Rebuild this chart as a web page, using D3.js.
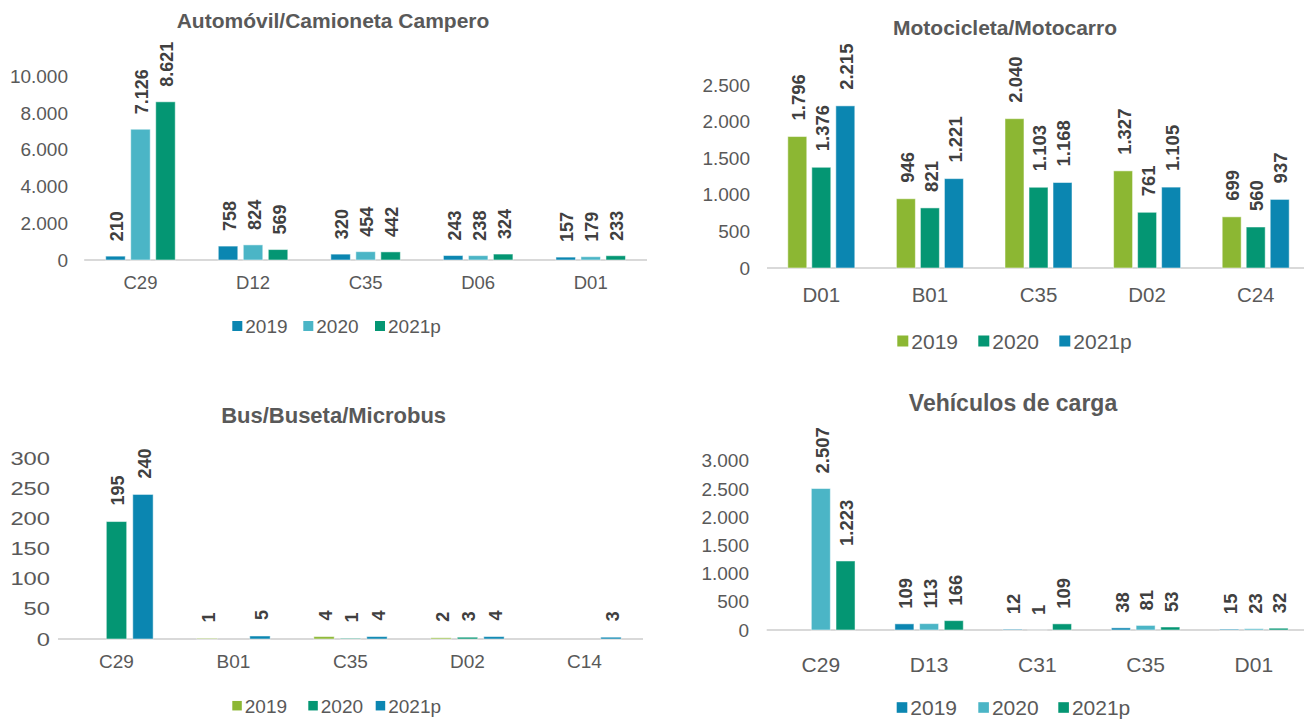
<!DOCTYPE html>
<html><head><meta charset="utf-8">
<script src="https://cdn.jsdelivr.net/npm/d3@7"></script>
<style>
html,body{margin:0;padding:0;background:#fff;}
svg{display:block;font-family:Arial,"Liberation Sans",sans-serif;}
</style></head>
<body>
<svg id="chart" width="1304" height="721"></svg>
<script>
// ---- data ----
const series = ["2019", "2020", "2021p"];

const autoTitle = "Automóvil/Camioneta Campero";
const autoCats = ["C29", "D12", "C35", "D06", "D01"];
const auto2019 = [210, 758, 320, 243, 157];
const auto2020 = [7126, 824, 454, 238, 179];
const auto2021 = [8621, 569, 442, 324, 233];
const autoTicks = [0, 2000, 4000, 6000, 8000, 10000];

const motoTitle = "Motocicleta/Motocarro";
const motoCats = ["D01", "B01", "C35", "D02", "C24"];
const moto2019 = [1796, 946, 2040, 1327, 699];
const moto2020 = [1376, 821, 1103, 761, 560];
const moto2021 = [2215, 1221, 1168, 1105, 937];
const motoTicks = [0, 500, 1000, 1500, 2000, 2500];

const busTitle = "Bus/Buseta/Microbus";
const busCats = ["C29", "B01", "C35", "D02", "C14"];
const bus2019 = [null, 1, 4, 2, null];
const bus2020 = [195, null, 1, 3, null];
const bus2021 = [240, 5, 4, 4, 3];
const busTicks = [0, 50, 100, 150, 200, 250, 300];

const cargaTitle = "Vehículos de carga";
const cargaCats = ["C29", "D13", "C31", "C35", "D01"];
const carga2019 = [null, 109, 12, 38, 15];
const carga2020 = [2507, 113, 1, 81, 23];
const carga2021 = [1223, 166, 109, 53, 32];
const cargaTicks = [0, 500, 1000, 1500, 2000, 2500, 3000];

// ---- styles ----
const paletteA = ["#0b86b1", "#4bb5c6", "#049673"];
const paletteB = ["#8cb733", "#049673", "#0b86b1"];
const textColor = "#595959";
const labelColor = "#404040";

const loc = d3.formatLocale({decimal: ",", thousands: ".", grouping: [3], currency: ["$", ""]});
const fmt = loc.format(",d");

const svg = d3.select("#chart");

function drawPanel(cfg) {
  const g = svg.append("g");
  const y = d3.scaleLinear().domain(cfg.domain).range(cfg.yRange);
  const x0 = d3.scaleBand().domain(cfg.cats).range(cfg.xRange).padding(0);
  const half = cfg.groupW / 2;
  const x1 = d3.scaleBand().domain(series).range([-half, half]).paddingInner(cfg.innerPad);
  const color = d3.scaleOrdinal().domain(series).range(cfg.palette);

  // title
  g.append("text")
    .attr("x", cfg.titleX).attr("y", cfg.titleY)
    .attr("text-anchor", "middle").attr("dy", "0.35em")
    .attr("font-size", cfg.titleSize).attr("font-weight", "bold")
    .attr("fill", textColor).text(cfg.title);

  // y axis (labels only)
  const yAxis = d3.axisLeft(y).tickValues(cfg.ticks).tickFormat(fmt).tickSize(0).tickPadding(0);
  const ya = g.append("g").attr("transform", `translate(${cfg.tickX},0)`).call(yAxis);
  ya.select(".domain").remove();
  ya.selectAll("text").attr("font-size", cfg.tickSize).attr("fill", textColor)
    .attr("font-family", "Arial, 'Liberation Sans', sans-serif");
  if (cfg.tickStretch) {
    ya.selectAll("text").attr("x", 0).attr("transform", `scale(${cfg.tickStretch},1)`);
  }

  // baseline
  g.append("line")
    .attr("x1", cfg.xRange[0]).attr("x2", Math.min(cfg.xRange[1], 1304))
    .attr("y1", y(0)).attr("y2", y(0))
    .attr("stroke", "#d9d9d9").attr("stroke-width", 2);

  // bars
  const rows = [];
  cfg.cats.forEach((c, i) => {
    series.forEach((s, j) => {
      const v = cfg.values[j][i];
      if (v !== null && v !== undefined) rows.push({cat: c, s: s, v: v});
    });
  });
  const cx = d => x0(d.cat) + x0.bandwidth() / 2 + x1(d.s);
  g.selectAll("rect.bar").data(rows).join("rect")
    .attr("class", "bar")
    .attr("x", d => cx(d))
    .attr("width", x1.bandwidth())
    .attr("y", d => y(d.v))
    .attr("height", d => Math.max(0, y(0) - y(d.v)))
    .attr("fill", d => color(d.s))
    .attr("stroke", "#ffffff").attr("stroke-opacity", 0.5).attr("stroke-width", 1);

  // value labels
  g.selectAll("text.val").data(rows).join("text")
    .attr("class", "val")
    .attr("transform", d => `translate(${cx(d) + x1.bandwidth() / 2},${y(d.v) - cfg.labelGap}) rotate(-90)`)
    .attr("dy", "0.42em")
    .attr("font-size", cfg.valSize).attr("font-weight", "bold")
    .attr("fill", labelColor)
    .text(d => fmt(d.v));

  // x category labels
  const xAxis = d3.axisBottom(x0).tickSize(0).tickPadding(0);
  const xa = g.append("g").attr("transform", `translate(0,${cfg.catY})`).call(xAxis);
  xa.select(".domain").remove();
  xa.selectAll("text").attr("font-size", cfg.catSize).attr("fill", textColor)
    .attr("dy", "0.35em").attr("y", 0)
    .attr("font-family", "Arial, 'Liberation Sans', sans-serif");

  // legend
  const lg = g.append("g");
  series.forEach((s, j) => {
    const lx = cfg.legendX[j];
    lg.append("rect")
      .attr("x", lx).attr("y", cfg.legendY - cfg.legendBox / 2)
      .attr("width", cfg.legendBox).attr("height", cfg.legendBox)
      .attr("fill", color(s));
    lg.append("text")
      .attr("x", lx + cfg.legendBox + 3).attr("y", cfg.legendY)
      .attr("dy", "0.36em")
      .attr("font-size", cfg.legendSize).attr("fill", textColor)
      .text(s);
  });
}

drawPanel({
  title: autoTitle, titleX: 333, titleY: 21, titleSize: 21,
  cats: autoCats, values: [auto2019, auto2020, auto2021], ticks: autoTicks,
  domain: [0, 10000], yRange: [260, 76.5], xRange: [84.2, 647],
  groupW: 69.5, innerPad: 0.22, palette: paletteA,
  tickX: 68, tickSize: 19, catY: 283, catSize: 18.5, valSize: 18, labelGap: 15,
  legendX: [232.3, 303.3, 375], legendY: 326, legendBox: 10, legendSize: 19
});

drawPanel({
  title: motoTitle, titleX: 1005, titleY: 28, titleSize: 21,
  cats: motoCats, values: [moto2019, moto2020, moto2021], ticks: motoTicks,
  domain: [0, 2500], yRange: [268, 85], xRange: [767, 1310],
  groupW: 67, innerPad: 0.21, palette: paletteB,
  tickX: 750, tickSize: 19, catY: 294.5, catSize: 20.5, valSize: 18.5, labelGap: 16,
  legendX: [897.3, 978.3, 1059.3], legendY: 341, legendBox: 11, legendSize: 21
});

drawPanel({
  title: busTitle, titleX: 333.6, titleY: 415, titleSize: 22,
  cats: busCats, values: [bus2019, bus2020, bus2021], ticks: busTicks,
  domain: [0, 300], yRange: [639, 458.3], xRange: [58, 643],
  groupW: 73.3, innerPad: 0.23, palette: paletteB,
  tickX: 50, tickSize: 19, tickStretch: 1.25, catY: 661.5, catSize: 19, valSize: 18, labelGap: 16,
  legendX: [232.3, 308.3, 375.7], legendY: 705.7, legendBox: 9.5, legendSize: 19
});

drawPanel({
  title: cargaTitle, titleX: 1013, titleY: 403, titleSize: 23,
  cats: cargaCats, values: [carga2019, carga2020, carga2021], ticks: cargaTicks,
  domain: [0, 3000], yRange: [630, 460.7], xRange: [766.7, 1308],
  groupW: 68.4, innerPad: 0.23, palette: paletteA,
  tickX: 749, tickSize: 19, catY: 665, catSize: 21, valSize: 18.5, labelGap: 15,
  legendX: [896.7, 978.3, 1058.3], legendY: 707.5, legendBox: 10.6, legendSize: 21
});
</script>
</body></html>
